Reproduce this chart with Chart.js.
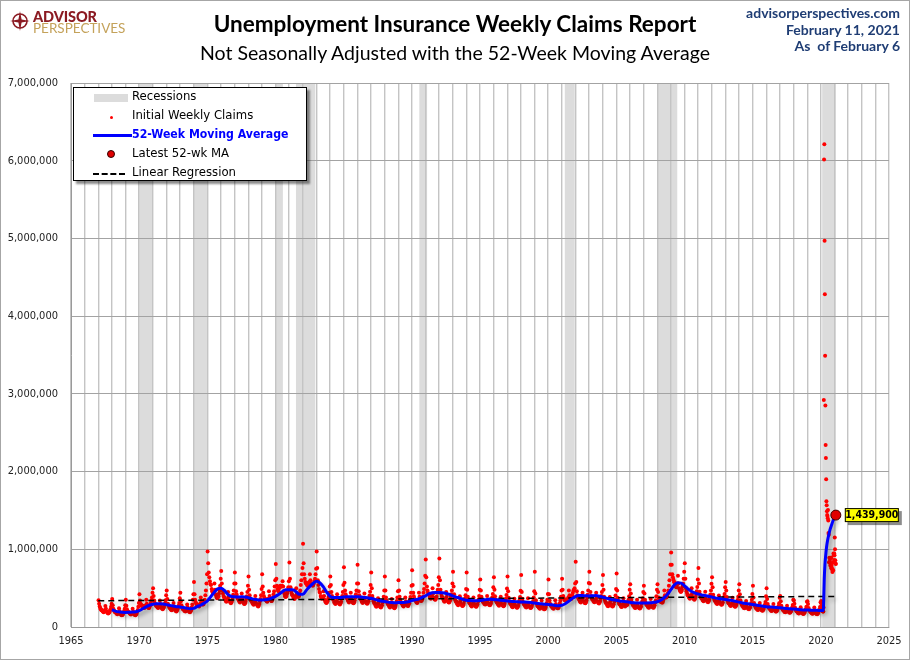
<!DOCTYPE html>
<html>
<head>
<meta charset="utf-8">
<script src="https://cdn.jsdelivr.net/npm/chart.js@4.4.0/dist/chart.umd.min.js"></script>
<style>
  html, body { margin: 0; padding: 0; background: #fff; }
  #wrap { position: relative; width: 910px; height: 660px; overflow: hidden; background: #fff; }
  #c { position: absolute; left: 0; top: 0; }
  #frame { position: absolute; left: 0; top: 0; width: 910px; height: 660px; box-sizing: border-box; border: 1px solid #a6a6a6; pointer-events: none; }
  .t { position: absolute; white-space: nowrap; }
  #title { left: 0; width: 910px; text-align: center; top: 10px; font: bold 22.5px Lato, "Open Sans", sans-serif; color: #000; }
  #subtitle { left: 0; width: 910px; text-align: center; top: 41px; font: 19.5px Lato, "Open Sans", sans-serif; color: #000; }
  .rt { right: 10px; text-align: right; font: bold 14px Lato, "Open Sans", sans-serif; color: #1f3d74; }
  #logo1 { left: 33px; top: 8px; font: 900 14.5px Lato, sans-serif; color: #8b1a22; letter-spacing: -0.1px; }
  #logo2 { left: 33px; top: 20px; font: 13.5px Lato, sans-serif; color: #c4a25a; letter-spacing: 0px; }
  #legend { position: absolute; left: 73px; top: 87px; width: 234px; height: 94px; box-sizing: border-box; border: 1px solid #000; background: #fff; box-shadow: 3px 3px 2px rgba(0,0,0,0.45); font: 13px "DejaVu Sans Condensed", "Open Sans", sans-serif; color: #000; }
  .row { position: absolute; left: 0; height: 18px; width: 232px; }
  .row span.lbl { position: absolute; left: 58px; top: 0px; }
  .sym { position: absolute; }
</style>
</head>
<body>
<div id="wrap">
  <canvas id="c" width="910" height="660"></canvas>
  <svg class="t" style="left:10px;top:11px" width="20" height="20" viewBox="0 0 20 20">
    <circle cx="10" cy="10" r="7" fill="none" stroke="#8b1a22" stroke-width="1.6"/>
    <polygon points="10,0 11.6,8.4 20,10 11.6,11.6 10,20 8.4,11.6 0,10 8.4,8.4" fill="#8b1a22"/>
  </svg>
  <div class="t" id="logo1">ADVISOR</div>
  <div class="t" id="logo2">PERSPECTIVES</div>
  <div class="t" id="title">Unemployment Insurance Weekly Claims Report</div>
  <div class="t" id="subtitle">Not Seasonally Adjusted with the 52-Week Moving Average</div>
  <div class="t rt" style="top:4px">advisorperspectives.com</div>
  <div class="t rt" style="top:21px">February 11, 2021</div>
  <div class="t rt" style="top:37px">As&nbsp; of February 6</div>
  <div id="legend">
    <div class="row" style="top:0px"><div class="sym" style="left:20px;top:6px;width:34px;height:8px;background:#dcdcdc"></div><span class="lbl">Recessions</span></div>
    <div class="row" style="top:19px"><div class="sym" style="left:36px;top:9px;width:3px;height:3px;background:#ff0000;border-radius:50%"></div><span class="lbl">Initial Weekly Claims</span></div>
    <div class="row" style="top:38px"><div class="sym" style="left:19px;top:8px;width:39px;height:3px;background:#0000ff"></div><span class="lbl" style="color:#0000ff;font-weight:bold;font-size:12.2px;top:1px">52-Week Moving Average</span></div>
    <div class="row" style="top:57px"><div class="sym" style="left:33px;top:5px;width:8px;height:8px;background:#e00000;border:1px solid #300;border-radius:50%;box-sizing:border-box"></div><span class="lbl">Latest 52-wk MA</span></div>
    <div class="row" style="top:76px"><div class="sym" style="left:19px;top:9px;width:32px;height:0;border-top:2px dashed #000"></div><span class="lbl">Linear Regression</span></div>
  </div>
  <div id="frame"></div>
</div>
<script>
// ---------------- DATA (weekly claims in thousands, 24 readings per year) ----------------
const claims1967_69 = [
345,300,265,245,230,215,220,205,195,190,205,215,270,235,200,190,180,175,180,190,210,230,260,300,
360,280,235,215,200,190,195,180,170,165,175,185,240,205,175,165,155,150,155,165,185,205,235,280,
350,275,230,210,195,185,190,175,168,162,170,182,235,200,172,162,155,150,160,172,195,220,260,310
];
const claims1970s = [
420,340,300,285,275,265,275,255,250,245,260,280,350,300,265,255,245,245,260,280,310,340,380,440,
500,400,340,310,290,275,280,260,250,245,255,275,340,295,260,245,235,230,240,255,280,305,345,410,
470,360,300,280,260,245,250,230,220,215,225,245,310,265,230,215,205,200,210,225,250,275,310,370,
440,330,280,255,235,225,230,210,205,200,210,225,290,250,215,200,195,190,200,215,250,290,350,420,
580,420,350,320,300,285,290,275,270,265,280,300,380,330,295,290,290,295,320,350,410,470,560,680,
970,820,700,640,590,550,540,490,460,440,450,470,560,480,420,400,380,370,380,395,430,470,530,620,
720,560,470,430,400,375,380,350,335,325,340,360,450,390,345,330,315,305,320,340,380,415,470,560,
700,560,460,420,385,365,370,340,325,315,330,350,430,375,330,315,300,295,305,325,360,395,450,530,
650,480,410,370,345,330,335,305,295,285,295,315,400,345,300,285,275,265,275,295,330,360,410,490,
680,520,440,400,375,355,360,340,330,325,340,365,460,400,355,345,335,335,350,375,420,460,520,600
];
const claims1980s = [
810,620,530,490,470,460,500,520,530,520,520,530,590,520,460,430,400,385,390,400,430,460,510,590,
830,620,510,460,430,410,410,380,370,360,375,400,500,440,400,390,390,400,430,470,540,600,680,760,
1070,820,680,620,580,560,570,540,530,530,550,580,680,600,560,550,540,530,540,560,590,620,680,750,
970,760,600,540,490,450,440,400,380,365,375,390,460,400,350,335,320,310,315,330,360,390,440,520,
650,540,450,400,370,350,350,320,305,295,310,330,420,365,320,305,295,290,305,325,365,400,450,540,
770,570,470,420,390,370,370,340,325,315,330,350,440,380,335,320,310,305,320,340,380,420,470,560,
800,560,460,410,380,360,360,335,320,310,325,345,430,375,330,315,305,300,310,330,370,405,455,540,
700,500,400,360,330,310,310,285,270,262,275,295,370,320,282,268,258,252,262,280,315,345,390,470,
650,470,380,340,315,295,295,272,260,252,265,285,360,310,272,258,248,242,255,272,305,335,380,460,
600,470,390,350,325,305,305,282,272,265,280,300,380,330,292,280,272,270,285,305,345,385,440,530
];
const claims1990s = [
730,540,440,395,365,345,350,325,315,310,325,350,440,390,350,340,335,340,360,390,440,490,560,660,
870,640,520,470,440,420,420,390,375,365,380,400,500,430,380,365,355,350,365,390,440,480,540,640,
880,600,480,430,400,380,380,350,335,325,340,360,450,390,345,330,320,315,325,345,385,420,470,560,
710,520,420,375,345,325,325,300,288,280,292,312,395,340,300,285,275,270,280,298,335,365,410,490,
700,480,390,350,325,305,305,282,272,265,278,298,380,325,288,275,265,262,272,290,325,355,400,480,
610,470,390,355,335,318,320,300,292,288,300,320,400,345,305,292,282,280,290,310,345,378,425,510,
640,480,395,355,332,315,315,292,282,275,288,308,390,335,295,282,272,268,278,298,335,365,412,495,
650,460,375,335,310,295,295,272,262,255,268,288,365,312,275,262,252,248,258,275,310,340,385,465,
670,450,365,325,302,288,290,268,258,252,265,285,370,310,270,258,248,245,255,272,305,335,380,460,
710,430,345,305,282,268,270,250,240,235,246,264,340,288,252,240,230,228,236,252,282,310,350,425
];
const claims2000s = [
610,420,340,300,280,265,268,248,240,236,248,268,345,295,260,250,242,240,252,272,305,340,390,470,
620,480,400,370,350,340,350,340,340,340,360,380,470,410,370,360,360,380,410,440,470,480,500,560,
840,580,460,410,380,360,360,335,322,315,330,350,440,380,335,320,310,305,318,340,380,415,470,565,
710,560,450,400,375,355,360,335,325,318,330,350,440,375,330,318,308,302,315,335,370,400,450,540,
670,480,390,350,325,308,308,285,275,268,282,302,385,330,290,278,268,265,275,292,325,355,405,490,
690,470,375,335,310,292,295,272,262,258,270,290,370,315,278,265,320,300,280,290,320,350,395,480,
550,430,350,315,292,278,280,258,248,243,255,275,350,298,262,250,240,237,248,265,298,328,370,450,
530,430,350,315,295,280,285,262,252,248,260,280,360,305,268,258,250,248,260,280,315,345,395,480,
550,450,380,350,335,325,340,320,315,315,340,370,470,410,380,380,385,395,430,470,530,600,680,800,
960,800,680,640,610,580,580,540,520,510,530,560,660,560,500,480,460,450,460,480,520,560,620,710
];
const claims2010s = [
820,620,500,460,430,410,410,385,372,365,380,405,500,430,385,370,358,352,365,385,425,460,515,610,
760,560,455,415,390,370,372,350,340,332,345,368,455,390,350,335,325,320,332,350,385,418,470,555,
640,510,415,375,350,333,335,312,302,296,308,328,405,348,312,300,290,286,296,315,360,385,425,510,
580,470,385,345,322,305,305,285,276,270,282,300,375,320,285,272,263,260,270,285,318,348,390,470,
550,420,345,310,288,272,272,253,245,240,250,268,335,285,252,240,232,228,237,252,282,310,350,425,
530,380,310,280,260,246,248,230,222,218,228,245,310,262,230,220,212,210,218,232,260,285,322,395,
500,360,295,265,248,234,235,218,210,206,216,232,295,250,218,208,200,198,205,220,245,270,305,375,
400,330,272,245,228,215,216,200,193,190,198,214,275,232,202,192,185,182,190,202,226,250,282,350,
340,300,250,225,210,198,198,184,178,174,182,196,255,215,187,178,171,168,176,187,208,230,262,325,
330,295,245,220,205,193,193,180,174,170,178,192,250,210,183,175,168,165,172,184,205,226,258,320
];
// weekly, week ending Jan 4 2020 through Feb 6 2021 (thousands)
const claimsWeekly2020 = [
310,335,270,245,235,218,212,203,200,198,251,2920,6015,6211,4971,4281,3489,2849,2343,2174,1900,1619,
1566,1488,1440,1429,1398,1504,1369,1209,1187,832,891,830,833,866,790,825,804,760,893,788,755,738,
709,743,827,727,947,925,861,946,922,1151,1000,858,818,812
];

// 52-week moving average (year, thousands)
const maYears = [
1968.0,1968.25,1968.5,1968.75,1969.0,1969.25,1969.5,1969.75,1970.0,1970.25,1970.5,1970.75,
1971.0,1971.25,1971.5,1971.75,1972.0,1972.25,1972.5,1972.75,1973.0,1973.25,1973.5,1973.75,
1974.0,1974.25,1974.5,1974.75,1975.0,1975.25,1975.5,1975.75,1976.0,1976.25,1976.5,1976.75,
1977.0,1977.25,1977.5,1977.75,1978.0,1978.25,1978.5,1978.75,1979.0,1979.25,1979.5,1979.75,
1980.0,1980.25,1980.5,1980.75,1981.0,1981.25,1981.5,1981.75,1982.0,1982.25,1982.5,1982.75,
1983.0,1983.25,1983.5,1983.75,1984.0,1984.25,1984.5,1984.75,1985.0,1985.25,1985.5,1985.75,
1986.0,1986.25,1986.5,1986.75,1987.0,1987.25,1987.5,1987.75,1988.0,1988.25,1988.5,1988.75,
1989.0,1989.25,1989.5,1989.75,1990.0,1990.25,1990.5,1990.75,1991.0,1991.25,1991.5,1991.75,
1992.0,1992.25,1992.5,1992.75,1993.0,1993.25,1993.5,1993.75,1994.0,1994.25,1994.5,1994.75,
1995.0,1995.25,1995.5,1995.75,1996.0,1996.25,1996.5,1996.75,1997.0,1997.25,1997.5,1997.75,
1998.0,1998.25,1998.5,1998.75,1999.0,1999.25,1999.5,1999.75,2000.0,2000.25,2000.5,2000.75,
2001.0,2001.25,2001.5,2001.75,2002.0,2002.25,2002.5,2002.75,2003.0,2003.25,2003.5,2003.75,
2004.0,2004.25,2004.5,2004.75,2005.0,2005.25,2005.5,2005.75,2006.0,2006.25,2006.5,2006.75,
2007.0,2007.25,2007.5,2007.75,2008.0,2008.25,2008.5,2008.75,2009.0,2009.25,2009.5,2009.75,
2010.0,2010.25,2010.5,2010.75,2011.0,2011.25,2011.5,2011.75,2012.0,2012.25,2012.5,2012.75,
2013.0,2013.25,2013.5,2013.75,2014.0,2014.25,2014.5,2014.75,2015.0,2015.25,2015.5,2015.75,
2016.0,2016.25,2016.5,2016.75,2017.0,2017.25,2017.5,2017.75,2018.0,2018.25,2018.5,2018.75,
2019.0,2019.25,2019.5,2019.75,2020.0,2020.18,2020.22,2020.25,2020.3,2020.35,2020.42,2020.5,
2020.6,2020.67,2020.8,2020.9,2021.0,2021.1
];
const maValues = [
222,205,195,190,188,190,192,196,210,235,260,280,
292,300,300,296,288,278,270,262,258,250,242,236,
240,262,280,305,335,390,445,490,498,470,420,395,
388,385,388,385,378,365,355,348,348,350,358,375,
395,420,455,478,480,478,455,420,420,470,520,560,
590,570,520,450,395,380,378,380,385,388,388,390,
388,385,380,375,370,358,345,335,328,320,315,312,
315,315,318,325,340,350,360,380,400,425,440,445,
445,440,432,420,400,385,372,355,345,340,338,338,
340,348,355,356,355,350,345,340,335,330,328,325,
323,322,320,315,310,302,298,293,290,285,278,275,
280,300,330,365,392,405,405,402,400,402,405,395,
385,372,360,350,345,335,330,325,318,312,310,310,
310,310,312,318,325,345,375,420,480,540,570,565,
530,490,460,440,425,412,405,395,385,375,368,360,
355,348,340,330,320,310,302,295,290,282,275,268,
262,258,255,252,248,243,238,234,232,228,223,220,
218,217,215,214,213,213,400,610,800,910,1030,1120,
1200,1250,1320,1370,1410,1439.9
];

const regYears = [1967.0, 2021.1];
const regValues = [338000, 394000];

const latestYear = 2021.1;
const latestValue = 1439900;

const recStart = [1970.0, 1973.95, 1979.98, 1981.5, 1990.55, 2001.22, 2008.0, 2020.1];
const recEnd   = [1970.95, 1975.05, 1980.54, 1982.92, 1991.12, 2001.95, 2009.47, 2021.1];

const xTickYears = [1965, 1970, 1975, 1980, 1985, 1990, 1995, 2000, 2005, 2010, 2015, 2020, 2025];

// ---------------- BUILD ----------------
const claimsPts = [];
[[1967, claims1967_69], [1970, claims1970s], [1980, claims1980s], [1990, claims1990s], [2000, claims2000s], [2010, claims2010s]]
  .forEach(([start, arr]) => arr.forEach((v, i) => claimsPts.push({ x: start + (i + 0.5) / 24, y: v * 1000 })));
claimsWeekly2020.forEach((v, i) => claimsPts.push({ x: 2020 + (3 + 7 * i) / 366, y: v * 1000 }));

const maPts = maYears.map((x, i) => ({ x: x, y: maValues[i] * 1000 }));
const regPts = regYears.map((x, i) => ({ x: x, y: regValues[i] }));

const recessionPlugin = {
  id: 'recessions',
  beforeDraw(chart) {
    const { ctx, chartArea, scales } = chart;
    ctx.save();
    ctx.fillStyle = '#dcdcdc';
    recStart.forEach((s, i) => {
      const x1 = scales.x.getPixelForValue(s);
      const x2 = scales.x.getPixelForValue(recEnd[i]);
      ctx.fillRect(x1, chartArea.top, x2 - x1, chartArea.bottom - chartArea.top);
    });
    ctx.restore();
  }
};

const shadowPlugin = {
  id: 'lineShadow',
  beforeDatasetDraw(chart, args) {
    if (args.index === 1 || args.index === 2) {
      const ctx = chart.ctx;
      ctx.save();
      ctx.shadowColor = 'rgba(0,0,0,0.35)';
      ctx.shadowBlur = 4;
      ctx.shadowOffsetX = 2;
      ctx.shadowOffsetY = 3;
    }
  },
  afterDatasetDraw(chart, args) {
    if (args.index === 1 || args.index === 2) chart.ctx.restore();
  }
};

const labelPlugin = {
  id: 'latestLabel',
  afterDatasetsDraw(chart) {
    const meta = chart.getDatasetMeta(0);
    const pt = meta.data[0];
    if (!pt) return;
    const { ctx } = chart;
    const txt = latestValue.toLocaleString('en-US');
    const bx = pt.x + 9, bw = 54, bh = 14, by = pt.y - 7;
    ctx.save();
    ctx.fillStyle = 'rgba(0,0,0,0.45)';
    ctx.fillRect(bx + 3, by + 3, bw, bh);
    ctx.fillStyle = '#ffff00';
    ctx.fillRect(bx, by, bw, bh);
    ctx.strokeStyle = '#000';
    ctx.lineWidth = 1;
    ctx.strokeRect(bx + 0.5, by + 0.5, bw - 1, bh - 1);
    ctx.fillStyle = '#000';
    ctx.font = 'bold 10.5px "DejaVu Sans Condensed", "DejaVu Sans", sans-serif';
    ctx.textAlign = 'center';
    ctx.textBaseline = 'middle';
    ctx.fillText(txt, bx + bw / 2, by + bh / 2 + 0.5);
    ctx.restore();
  }
};

const tickFont = { family: '"DejaVu Sans Condensed", "DejaVu Sans", sans-serif', size: 11 };

new Chart(document.getElementById('c'), {
  type: 'scatter',
  data: {
    datasets: [
      { label: 'Latest 52-wk MA', data: [{ x: latestYear, y: latestValue }], pointRadius: 5, pointBackgroundColor: '#e00000', pointBorderColor: '#400000', pointBorderWidth: 1, order: 0 },
      { label: '52-Week Moving Average', data: maPts, showLine: true, borderColor: '#0000ff', borderWidth: 3, pointRadius: 0, cubicInterpolationMode: 'monotone', order: 1 },
      { label: 'Linear Regression', data: regPts, showLine: true, borderColor: '#000', borderWidth: 1.5, borderDash: [6, 4], pointRadius: 0, order: 2 },
      { label: 'Initial Weekly Claims', data: claimsPts, pointRadius: 2, pointBackgroundColor: '#ff0000', pointBorderWidth: 0, order: 3 }
    ]
  },
  options: {
    responsive: false,
    animation: false,
    devicePixelRatio: 1,
    layout: { padding: { left: 0, top: 83, right: 21, bottom: 0 } },
    plugins: { legend: { display: false }, tooltip: { enabled: false } },
    scales: {
      x: {
        type: 'linear', min: 1965, max: 2025,
        afterFit(s) { s.height = 33; },
        afterBuildTicks(s) { const t = []; for (let y = 1965; y <= 2025; y++) t.push({ value: y }); s.ticks = t; },
        ticks: { autoSkip: false, maxRotation: 0, padding: 8, color: '#222', font: tickFont,
          callback: v => xTickYears.includes(v) ? String(v) : '' },
        grid: { color: '#c4c4c4', lineWidth: 1.4, drawTicks: false },
        border: { color: '#9a9a9a', width: 1 }
      },
      y: {
        min: 0, max: 7000000,
        afterFit(s) { s.width = 71; },
        ticks: { stepSize: 1000000, padding: 13, color: '#222', font: tickFont,
          callback: v => Number(v).toLocaleString('en-US') },
        grid: { color: '#a3a3a3', lineWidth: 1, drawTicks: false },
        border: { color: '#9a9a9a', width: 1 }
      }
    }
  },
  plugins: [recessionPlugin, shadowPlugin, labelPlugin]
});
</script>
</body>
</html>
